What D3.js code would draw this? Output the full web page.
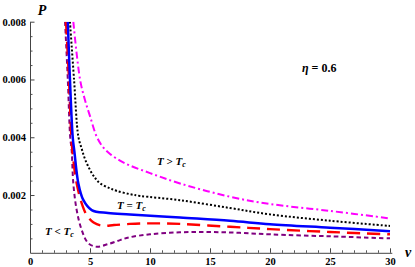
<!DOCTYPE html>
<html>
<head>
<meta charset="utf-8">
<script src="https://cdn.jsdelivr.net/npm/d3@7"></script>
<style>
body { margin: 0; background: #fff; }
text { font-family: "Liberation Serif", "DejaVu Serif", serif; font-weight: bold; }
</style>
</head>
<body>
<script>
// values, P in plain units
var vHigh = [3.61, 4.17, 4.58, 5.0, 5.56, 6.08, 6.67, 7.5, 8.33, 10, 12.5, 16.67, 20, 25, 30];
var pHigh = [0.0080, 0.0060, 0.00529, 0.00473, 0.00402, 0.00366, 0.00342, 0.00319, 0.00302, 0.00276, 0.0024, 0.00194, 0.00169, 0.00145, 0.00119];

var vDot = [3.33, 3.67, 4.03, 4.31, 4.58, 5.0, 5.42, 5.83, 6.67, 7.25, 8.33, 9.17, 12.5, 16.67, 20, 25, 30];
var pDot = [0.0080, 0.0060, 0.00402, 0.0036, 0.00325, 0.00287, 0.00259, 0.00241, 0.00223, 0.00214, 0.00203, 0.00197, 0.00182, 0.00155, 0.00133, 0.00111, 0.00093];

var vCrit = [3.15, 3.33, 3.56, 3.7, 4.03, 4.44, 5.14, 6.5, 8.33, 12.5, 16.67, 20, 25, 30];
var pCrit = [0.0080, 0.0060, 0.0040, 0.0035, 0.0024, 0.00183, 0.00148, 0.00138, 0.00133, 0.00122, 0.00111, 0.00099, 0.00087, 0.00075];

var vLow = [3.0, 3.25, 3.45, 3.61, 3.89, 4.31, 4.72, 5.3, 6.0, 7.0, 8.33, 10, 12.5, 16.67, 20, 25, 30];
var pLow = [0.0080, 0.0060, 0.0040, 0.00321, 0.0024, 0.00171, 0.00131, 0.00105, 0.00094, 0.00096, 0.0010, 0.00102, 0.0010, 0.0009, 0.00082, 0.00072, 0.00064];

var vLowest = [2.92, 3.15, 3.35, 3.47, 3.61, 3.89, 4.31, 4.86, 5.56, 6.5, 7.5, 8.33, 10, 12.5, 15, 17.5, 20, 25, 30];
var pLowest = [0.0080, 0.0060, 0.0040, 0.00356, 0.0024, 0.00148, 0.00079, 0.00033, 0.00021, 0.0003, 0.00044, 0.00054, 0.00064, 0.00071, 0.00072, 0.00069, 0.00064, 0.00057, 0.0005];

var xMajor = [0, 5, 10, 15, 20, 25, 30];
var yMajor = [0.002, 0.004, 0.006, 0.008];
var yLabels = ["0.002", "0.004", "0.006", "0.008"];

var W = 415, H = 267;

var svg = d3.select("body").append("svg")
	.attr("width", W)
	.attr("height", H)
	.attr("xmlns", "http://www.w3.org/2000/svg");

var x = d3.scaleLinear().domain([0, 30.15]).range([30, 391.8]);
var y = d3.scaleLinear().domain([0, 0.008]).range([252.8, 21.7]);

// minor ticks first
var xMinor = d3.range(1, 30).filter(function(d){ return d % 5 != 0; });
var yMinor = d3.range(1, 16).map(function(d){ return d * 0.0005; }).filter(function(d, i){ return (i + 1) % 4 != 0; });

svg.append("g")
	.attr("transform", "translate(0," + y(0) + ")")
	.call(d3.axisBottom(x).tickValues(xMinor).tickSize(-2.5).tickSizeOuter(0).tickFormat(""))
	.call(function(g){ g.select(".domain").remove(); g.selectAll("line").attr("stroke", "#555"); });

svg.append("g")
	.attr("transform", "translate(" + x(0) + ",0)")
	.call(d3.axisLeft(y).tickValues(yMinor).tickSize(-2.5).tickSizeOuter(0).tickFormat(""))
	.call(function(g){ g.select(".domain").remove(); g.selectAll("line").attr("stroke", "#555"); });

var xAxis = svg.append("g")
	.attr("transform", "translate(0," + y(0) + ")")
	.call(d3.axisBottom(x).tickValues(xMajor).tickSize(-4.5).tickSizeOuter(0).tickPadding(5));
var yAxis = svg.append("g")
	.attr("transform", "translate(" + x(0) + ",0)")
	.call(d3.axisLeft(y).tickValues(yMajor).tickSize(-4.5).tickSizeOuter(0).tickPadding(4)
		.tickFormat(function(d, i){ return yLabels[i]; }));

[xAxis, yAxis].forEach(function(g){
	g.select(".domain").attr("stroke", "#444");
	g.selectAll("line").attr("stroke", "#444");
	g.selectAll("text").attr("font-family", "Liberation Serif").attr("font-weight", "bold")
		.attr("font-size", 10.5).attr("fill", "#000");
});

svg.append("clipPath").attr("id", "clip")
	.append("rect")
	.attr("x", x(0)).attr("y", y(0.008))
	.attr("width", x(30.15) - x(0)).attr("height", y(0) - y(0.008));

var line = d3.line()
	.x(function(d){ return x(d[0]); })
	.y(function(d){ return y(d[1]); })
	.curve(d3.curveCatmullRom.alpha(0.5));

var curves = [
	{v: vLowest, p: pLowest, color: "#800080", width: 2, dash: "4.5,3"},
	{v: vLow, p: pLow, color: "#ff0000", width: 2.4, dash: "13,7"},
	{v: vCrit, p: pCrit, color: "#0000ff", width: 2.5, dash: null},
	{v: vDot, p: pDot, color: "#000000", width: 2, dash: "2,2"},
	{v: vHigh, p: pHigh, color: "#ff00ff", width: 2, dash: "7,3,2,3"}
];

var plot = svg.append("g").attr("clip-path", "url(#clip)");
curves.forEach(function(c){
	var pts = c.v.map(function(v, i){ return [v, c.p[i]]; });
	plot.append("path")
		.attr("d", line(pts))
		.attr("fill", "none")
		.attr("stroke", c.color)
		.attr("stroke-width", c.width)
		.attr("stroke-dasharray", c.dash);
});

// axis names
svg.append("text")
	.attr("x", 42).attr("y", 15)
	.attr("font-size", 14).attr("font-style", "italic")
	.attr("text-anchor", "middle")
	.text("P");
svg.append("text")
	.attr("x", 408).attr("y", 257)
	.attr("font-size", 14).attr("font-style", "italic")
	.attr("text-anchor", "middle")
	.text("v");

// eta label
var eta = svg.append("text").attr("x", 302).attr("y", 72).attr("font-size", 12);
eta.append("tspan").attr("font-style", "italic").text("η");
eta.append("tspan").text(" = 0.6");

// temperature labels
var tLabels = [
	{x: 157, y: 165, sign: ">"},
	{x: 117, y: 209, sign: "="},
	{x: 45, y: 235, sign: "<"}
];
tLabels.forEach(function(t){
	var txt = svg.append("text").attr("x", t.x).attr("y", t.y).attr("font-size", 11);
	txt.append("tspan").attr("font-style", "italic").text("T");
	txt.append("tspan").text(" " + t.sign + " ");
	txt.append("tspan").attr("font-style", "italic").text("T");
	txt.append("tspan").attr("font-style", "italic").attr("font-size", 8).attr("dy", 2).text("c");
});
</script>
</body>
</html>
